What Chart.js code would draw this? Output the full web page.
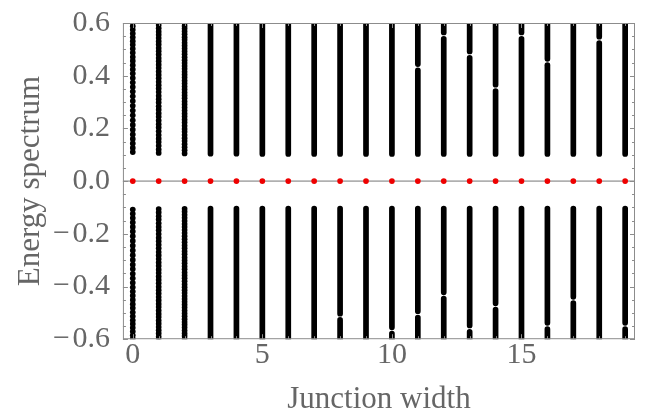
<!DOCTYPE html>
<html>
<head>
<meta charset="utf-8">
<script src="https://cdn.jsdelivr.net/npm/chart.js@4.4.1/dist/chart.umd.min.js"></script>
<style>
  html, body { margin: 0; padding: 0; background: #fff; }
  #wrap { width: 652px; height: 412px; }
</style>
</head>
<body>
<div id="wrap"><canvas id="spectrum"></canvas></div>
<script>
// tick labels
const xTicks = [0, 5, 10, 15]
const xTickLabels = ["0", "5", "10", "15"]
const yTicks = [-0.6, -0.4, -0.2, 0, 0.2, 0.4, 0.6]
const yTickLabels = ["\u2212\u200a0.6", "\u2212\u200a0.4", "\u2212\u200a0.2", "0.0", "0.2", "0.4", "0.6"]

// junction widths, each one has a zero mode (red)
const widths = [0,1,2,3,4,5,6,7,8,9,10,11,12,13,14,15,16,17,18,19]
const zeroModes = [0,0,0,0,0,0,0,0,0,0,0,0,0,0,0,0,0,0,0,0]

const col0Pos = [0.110,0.126,0.143,0.160,0.177,0.195,0.213,0.231,0.250,0.268,0.286,0.304,0.322,0.340,0.357,0.374,0.391,0.408,0.424,0.440,0.456,0.471,0.487,0.502,0.517,0.531,0.546,0.560,0.574,0.588,0.602]
const col0Neg = [-0.108,-0.124,-0.140,-0.157,-0.174,-0.191,-0.209,-0.227,-0.245,-0.263,-0.281,-0.299,-0.317,-0.334,-0.352,-0.369,-0.386,-0.403,-0.419,-0.435,-0.451,-0.467,-0.482,-0.498,-0.513,-0.528,-0.542,-0.557,-0.571,-0.585,-0.599]
const col1Pos = [0.107,0.120,0.134,0.148,0.161,0.175,0.189,0.203,0.216,0.230,0.244,0.257,0.271,0.284,0.298,0.311,0.324,0.338,0.351,0.364,0.377,0.390,0.403,0.416,0.429,0.442,0.455,0.467,0.480,0.493,0.505,0.518,0.530,0.543,0.555,0.567,0.580,0.592,0.604]
const col1Neg = [-0.106,-0.119,-0.133,-0.146,-0.160,-0.174,-0.187,-0.201,-0.215,-0.228,-0.242,-0.255,-0.269,-0.282,-0.296,-0.309,-0.322,-0.336,-0.349,-0.362,-0.375,-0.388,-0.401,-0.414,-0.427,-0.440,-0.453,-0.466,-0.478,-0.491,-0.504,-0.516,-0.529,-0.541,-0.554,-0.566,-0.578,-0.591,-0.603]
const col2Pos = [0.105,0.117,0.128,0.140,0.152,0.163,0.175,0.187,0.198,0.210,0.222,0.233,0.245,0.256,0.268,0.279,0.291,0.302,0.314,0.325,0.336,0.348,0.359,0.370,0.381,0.393,0.404,0.415,0.426,0.437,0.448,0.459,0.470,0.481,0.492,0.503,0.514,0.525,0.536,0.546,0.557,0.568,0.579,0.589,0.600]
const col2Neg = [-0.105,-0.116,-0.128,-0.139,-0.151,-0.163,-0.174,-0.186,-0.197,-0.209,-0.221,-0.232,-0.244,-0.255,-0.267,-0.278,-0.290,-0.301,-0.312,-0.324,-0.335,-0.347,-0.358,-0.369,-0.380,-0.392,-0.403,-0.414,-0.425,-0.436,-0.447,-0.458,-0.469,-0.480,-0.491,-0.502,-0.513,-0.524,-0.535,-0.545,-0.556,-0.567,-0.578,-0.588,-0.599]

// wider junctions: levels merge into a continuum, kept as [from, to] stretches
// (a thin white break where two neighbouring levels sit a bit further apart)
const bandCols = [3,4,5,6,7,8,9,10,11,12,13,14,15,16,17,18,19]
const bandPos = [
    [[0.104,0.62]],
    [[0.104,0.62]],
    [[0.103,0.62]],
    [[0.103,0.62]],
    [[0.103,0.62]],
    [[0.103,0.62]],
    [[0.103,0.62]],
    [[0.103,0.62]],
    [[0.103,0.420],[0.444,0.62]],
    [[0.103,0.540],[0.564,0.62]],
    [[0.103,0.468],[0.492,0.62]],
    [[0.103,0.342],[0.366,0.62]],
    [[0.103,0.540],[0.564,0.62]],
    [[0.103,0.440],[0.464,0.62]],
    [[0.103,0.62]],
    [[0.103,0.524],[0.548,0.62]],
    [[0.103,0.62]]
]
const bandNeg = [
    [[-0.104,-0.62]],
    [[-0.104,-0.62]],
    [[-0.104,-0.62]],
    [[-0.104,-0.62]],
    [[-0.104,-0.62]],
    [[-0.104,-0.503],[-0.527,-0.62]],
    [[-0.104,-0.62]],
    [[-0.104,-0.555],[-0.579,-0.62]],
    [[-0.104,-0.494],[-0.518,-0.62]],
    [[-0.104,-0.422],[-0.446,-0.62]],
    [[-0.104,-0.548],[-0.572,-0.62]],
    [[-0.104,-0.464],[-0.488,-0.62]],
    [[-0.104,-0.62]],
    [[-0.104,-0.538],[-0.562,-0.62]],
    [[-0.104,-0.439],[-0.463,-0.62]],
    [[-0.104,-0.62]],
    [[-0.104,-0.538],[-0.562,-0.62]]
]

const DOT = 2.85
const textGray = "#666666"
const frameGray = "#8c8c8c"
const serif = "Liberation Serif, Times New Roman, Times, serif"

let datasets = []

function levelSet(x, levels){
    return {
        data: levels.map(e => ({x: x, y: e})),
        backgroundColor: "#000",
        borderColor: "#000",
        borderWidth: 0,
        pointRadius: DOT,
        pointHoverRadius: DOT,
        clip: 0
    }
}

datasets.push(levelSet(0, col0Pos), levelSet(0, col0Neg))
datasets.push(levelSet(1, col1Pos), levelSet(1, col1Neg))
datasets.push(levelSet(2, col2Pos), levelSet(2, col2Neg))

bandCols.forEach((x, i) => {
    bandPos[i].concat(bandNeg[i]).forEach(seg => {
        datasets.push({
            data: [{x: x, y: seg[0]}, {x: x, y: seg[1]}],
            showLine: true,
            borderColor: "#000",
            borderWidth: DOT * 2,
            borderCapStyle: "round",
            pointRadius: 0,
            clip: 0
        })
    })
})

// zero modes on top
datasets.push({
    data: widths.map((w, i) => ({x: w, y: zeroModes[i]})),
    backgroundColor: "#ee0000",
    borderWidth: 0,
    pointRadius: DOT,
    clip: 0
})

// Mathematica-like frame: grey box, inward ticks, axis line at zero
const framePlugin = {
    id: "frame",
    beforeDatasetsDraw(chart){
        const {ctx, chartArea: a, scales: {y}} = chart
        const y0 = y.getPixelForValue(0)
        ctx.save()
        ctx.strokeStyle = "#b0b0b0"
        ctx.lineWidth = 1.6
        ctx.beginPath()
        ctx.moveTo(a.left, y0)
        ctx.lineTo(a.right, y0)
        ctx.stroke()
        ctx.restore()
    },
    afterDatasetsDraw(chart){
        const {ctx, chartArea: a, scales: {x, y}} = chart
        ctx.save()
        ctx.strokeStyle = frameGray
        ctx.lineWidth = 1
        ctx.strokeRect(a.left + 0.5, a.top + 0.5, a.right - a.left - 1, a.bottom - a.top - 1)
        ctx.beginPath()
        for(let k = -12; k <= 12; k++){
            const v = k * 0.05
            const py = Math.round(y.getPixelForValue(v)) + 0.5
            const len = (k % 4 === 0) ? 5 : 3
            ctx.moveTo(a.left, py); ctx.lineTo(a.left + len, py)
            ctx.moveTo(a.right, py); ctx.lineTo(a.right - len, py)
        }
        for(let k = 0; k <= 19; k++){
            const px = Math.round(x.getPixelForValue(k)) + 0.5
            const len = (k % 5 === 0) ? 5 : 3
            ctx.moveTo(px, a.bottom); ctx.lineTo(px, a.bottom - len)
            ctx.moveTo(px, a.top); ctx.lineTo(px, a.top + len)
        }
        ctx.stroke()
        ctx.restore()
    }
}

new Chart(document.getElementById("spectrum"), {
    type: "scatter",
    data: { datasets: datasets },
    options: {
        responsive: true,
        maintainAspectRatio: false,
        animation: false,
        events: [],
        layout: { padding: { left: 15, right: 17, top: 8, bottom: 0 } },
        plugins: {
            legend: { display: false },
            tooltip: { enabled: false }
        },
        scales: {
            x: {
                min: -0.38,
                max: 19.38,
                afterBuildTicks: s => { s.ticks = xTicks.map(v => ({value: v})) },
                ticks: {
                    color: textGray,
                    font: { family: serif, size: 30, lineHeight: 1 },
                    padding: 1,
                    maxRotation: 0,
                    callback: (v, i) => xTickLabels[i]
                },
                grid: { display: false, drawTicks: false },
                border: { display: false },
                title: {
                    display: true,
                    text: "Junction width",
                    color: textGray,
                    font: { family: serif, size: 31, lineHeight: 0.8 },
                    padding: { top: 16, bottom: 0 }
                }
            },
            y: {
                min: -0.6,
                max: 0.6,
                afterBuildTicks: s => { s.ticks = yTicks.map(v => ({value: v})) },
                ticks: {
                    color: textGray,
                    font: { family: serif, size: 30 },
                    padding: 5,
                    callback: (v, i) => yTickLabels[i]
                },
                grid: { display: false },
                border: { display: false },
                title: {
                    display: true,
                    text: "Energy spectrum",
                    color: textGray,
                    font: { family: serif, size: 31, lineHeight: 1 },
                    padding: { top: 0, bottom: 2 }
                }
            }
        }
    },
    plugins: [framePlugin]
})
</script>
</body>
</html>
